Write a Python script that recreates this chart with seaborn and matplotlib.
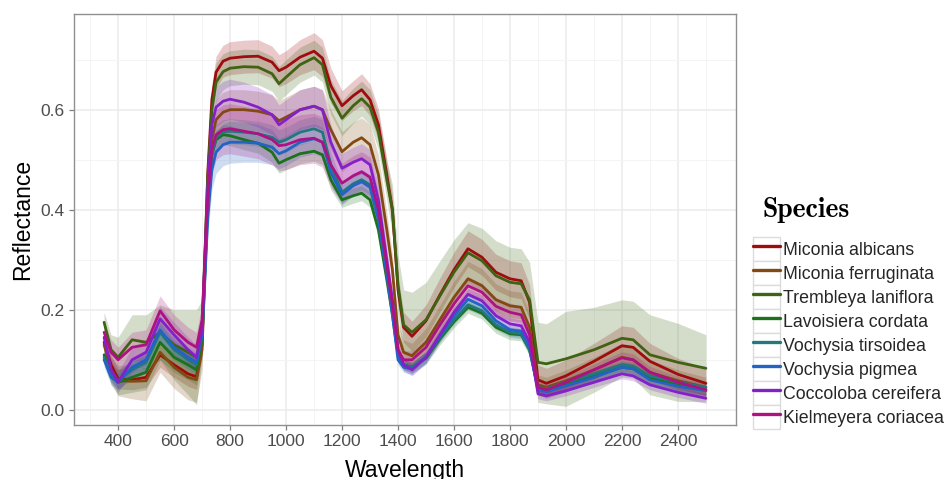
import matplotlib
matplotlib.use("Agg")
import matplotlib.pyplot as plt
from matplotlib.legend_handler import HandlerLine2D
from matplotlib.lines import Line2D
from matplotlib.patches import Rectangle
import numpy as np
import pandas as pd
import seaborn as sns

# --------------------------------------------------------------------------- #
# wavelength grid (nm)
WAVELENGTH = [350, 375, 400, 450, 500, 550, 600, 650, 680, 700,
              710, 720, 735, 750, 775, 800, 850, 900, 950, 975,
              1000, 1050, 1100, 1130, 1160, 1200, 1240, 1270, 1300, 1330,
              1360, 1380, 1400, 1420, 1450, 1500, 1550, 1600, 1650, 1700,
              1750, 1800, 1840, 1870, 1900, 1930, 2000, 2100, 2200, 2240,
              2300, 2400, 2500]

SPECIES = ["Miconia albicans", "Miconia ferruginata", "Trembleya laniflora",
           "Lavoisiera cordata", "Vochysia tirsoidea", "Vochysia pigmea",
           "Coccoloba cereifera", "Kielmeyera coriacea"]
COLORS = ["#9E0C10", "#824A12", "#3F6312", "#1C721C",
          "#22787A", "#2263C4", "#8420C8", "#AE1282"]

# mean reflectance per species
miconia_albicans = [0.135, 0.09, 0.062, 0.06, 0.065, 0.11, 0.09, 0.072, 0.066, 0.13,
                    0.30, 0.47, 0.62, 0.675, 0.697, 0.703, 0.706, 0.707, 0.695, 0.678,
                    0.685, 0.705, 0.717, 0.703, 0.648, 0.608, 0.628, 0.640, 0.620, 0.570,
                    0.47, 0.40, 0.24, 0.165, 0.147, 0.178, 0.23, 0.28, 0.322, 0.305,
                    0.275, 0.262, 0.258, 0.215, 0.06, 0.053, 0.068, 0.097, 0.128, 0.125,
                    0.097, 0.071, 0.053]
miconia_ferruginata = [0.13, 0.08, 0.058, 0.057, 0.058, 0.115, 0.085, 0.065, 0.06, 0.12,
                       0.27, 0.41, 0.54, 0.58, 0.595, 0.600, 0.600, 0.597, 0.59, 0.578,
                       0.585, 0.600, 0.607, 0.60, 0.56, 0.516, 0.535, 0.544, 0.53, 0.47,
                       0.36, 0.28, 0.15, 0.115, 0.108, 0.135, 0.18, 0.225, 0.262, 0.248,
                       0.22, 0.208, 0.205, 0.165, 0.05, 0.045, 0.058, 0.08, 0.105, 0.10,
                       0.075, 0.058, 0.045]
trembleya_laniflora = [0.175, 0.12, 0.105, 0.14, 0.135, 0.155, 0.13, 0.115, 0.105, 0.16,
                       0.31, 0.46, 0.60, 0.655, 0.676, 0.683, 0.686, 0.685, 0.672, 0.652,
                       0.665, 0.69, 0.704, 0.69, 0.625, 0.583, 0.608, 0.622, 0.605, 0.555,
                       0.46, 0.40, 0.25, 0.17, 0.155, 0.18, 0.228, 0.275, 0.314, 0.298,
                       0.268, 0.255, 0.252, 0.22, 0.095, 0.092, 0.102, 0.12, 0.143, 0.14,
                       0.11, 0.095, 0.083]
lavoisiera_cordata = [0.11, 0.07, 0.055, 0.065, 0.075, 0.135, 0.105, 0.09, 0.08, 0.14,
                      0.28, 0.41, 0.51, 0.54, 0.55, 0.548, 0.54, 0.533, 0.515, 0.493,
                      0.50, 0.512, 0.517, 0.51, 0.46, 0.42, 0.428, 0.433, 0.42, 0.36,
                      0.26, 0.19, 0.11, 0.09, 0.085, 0.103, 0.142, 0.176, 0.205, 0.193,
                      0.165, 0.152, 0.15, 0.12, 0.042, 0.04, 0.05, 0.068, 0.085, 0.082,
                      0.063, 0.05, 0.04]
vochysia_tirsoidea = [0.105, 0.07, 0.058, 0.08, 0.095, 0.155, 0.12, 0.10, 0.09, 0.15,
                      0.28, 0.41, 0.51, 0.545, 0.555, 0.557, 0.555, 0.552, 0.545, 0.535,
                      0.54, 0.555, 0.562, 0.555, 0.49, 0.435, 0.452, 0.46, 0.45, 0.39,
                      0.28, 0.20, 0.11, 0.09, 0.085, 0.105, 0.145, 0.18, 0.21, 0.198,
                      0.17, 0.155, 0.152, 0.12, 0.045, 0.042, 0.055, 0.072, 0.09, 0.087,
                      0.068, 0.055, 0.045]
vochysia_pigmea = [0.10, 0.065, 0.055, 0.085, 0.10, 0.16, 0.125, 0.105, 0.095, 0.15,
                   0.26, 0.38, 0.48, 0.515, 0.53, 0.535, 0.535, 0.533, 0.525, 0.512,
                   0.518, 0.535, 0.542, 0.535, 0.475, 0.43, 0.448, 0.456, 0.445, 0.38,
                   0.27, 0.19, 0.10, 0.085, 0.082, 0.105, 0.148, 0.188, 0.221, 0.208,
                   0.178, 0.16, 0.157, 0.125, 0.04, 0.036, 0.048, 0.065, 0.085, 0.082,
                   0.06, 0.047, 0.038]
coccoloba_cereifera = [0.145, 0.08, 0.055, 0.10, 0.115, 0.182, 0.15, 0.12, 0.105, 0.16,
                       0.30, 0.44, 0.57, 0.605, 0.617, 0.621, 0.615, 0.605, 0.59, 0.57,
                       0.58, 0.60, 0.607, 0.60, 0.535, 0.483, 0.495, 0.502, 0.49, 0.42,
                       0.30, 0.22, 0.12, 0.09, 0.08, 0.105, 0.15, 0.195, 0.231, 0.218,
                       0.188, 0.172, 0.168, 0.135, 0.032, 0.028, 0.038, 0.055, 0.072, 0.068,
                       0.05, 0.035, 0.023]
kielmeyera_coriacea = [0.155, 0.115, 0.10, 0.125, 0.13, 0.198, 0.16, 0.135, 0.125, 0.18,
                       0.30, 0.42, 0.52, 0.55, 0.56, 0.562, 0.557, 0.552, 0.54, 0.528,
                       0.53, 0.54, 0.543, 0.535, 0.49, 0.453, 0.468, 0.476, 0.465, 0.40,
                       0.29, 0.21, 0.12, 0.10, 0.10, 0.125, 0.17, 0.212, 0.248, 0.235,
                       0.207, 0.195, 0.19, 0.15, 0.045, 0.04, 0.055, 0.08, 0.104, 0.10,
                       0.075, 0.055, 0.04]

# ribbon half-widths per species
miconia_albicans_sd = [0.02, 0.02, 0.02, 0.02, 0.02, 0.025, 0.025, 0.025, 0.025, 0.025,
                       0.03, 0.03, 0.03, 0.032, 0.032, 0.033, 0.033, 0.033, 0.032, 0.032,
                       0.033, 0.035, 0.037, 0.037, 0.035, 0.03, 0.03, 0.032, 0.032, 0.032,
                       0.03, 0.03, 0.03, 0.03, 0.03, 0.032, 0.034, 0.035, 0.036, 0.036,
                       0.036, 0.036, 0.036, 0.035, 0.03, 0.03, 0.032, 0.036, 0.04, 0.04,
                       0.036, 0.032, 0.03]
miconia_ferruginata_sd = [0.02, 0.025, 0.03, 0.035, 0.04, 0.04, 0.042, 0.045, 0.045, 0.04,
                          0.04, 0.04, 0.04, 0.04, 0.04, 0.04, 0.04, 0.04, 0.04, 0.04,
                          0.04, 0.04, 0.04, 0.04, 0.04, 0.04, 0.04, 0.04, 0.04, 0.04,
                          0.035, 0.03, 0.025, 0.025, 0.025, 0.028, 0.03, 0.032, 0.035, 0.034,
                          0.032, 0.03, 0.03, 0.028, 0.02, 0.02, 0.022, 0.025, 0.028, 0.028,
                          0.025, 0.022, 0.02]
trembleya_laniflora_sd = [0.02, 0.03, 0.04, 0.05, 0.055, 0.055, 0.07, 0.085, 0.095, 0.06,
                          0.05, 0.045, 0.04, 0.038, 0.036, 0.035, 0.035, 0.035, 0.035, 0.035,
                          0.035, 0.035, 0.035, 0.035, 0.035, 0.035, 0.035, 0.035, 0.035, 0.035,
                          0.04, 0.05, 0.06, 0.07, 0.08, 0.075, 0.07, 0.065, 0.06, 0.065,
                          0.07, 0.07, 0.07, 0.075, 0.08, 0.08, 0.095, 0.085, 0.077, 0.077,
                          0.08, 0.078, 0.067]
lavoisiera_cordata_sd = [0.015, 0.02, 0.025, 0.03, 0.035, 0.035, 0.03, 0.03, 0.03, 0.03,
                         0.025, 0.025, 0.02, 0.02, 0.02, 0.02, 0.02, 0.02, 0.02, 0.02,
                         0.02, 0.02, 0.02, 0.02, 0.02, 0.015, 0.015, 0.015, 0.015, 0.015,
                         0.015, 0.012, 0.01, 0.01, 0.012, 0.012, 0.012, 0.012, 0.012, 0.012,
                         0.012, 0.012, 0.012, 0.012, 0.01, 0.01, 0.01, 0.01, 0.01, 0.01,
                         0.01, 0.01, 0.01]
vochysia_tirsoidea_sd = [0.015, 0.015, 0.015, 0.02, 0.02, 0.02, 0.02, 0.02, 0.02, 0.02,
                         0.02, 0.025, 0.025, 0.025, 0.025, 0.025, 0.025, 0.025, 0.025, 0.025,
                         0.025, 0.025, 0.025, 0.025, 0.025, 0.02, 0.02, 0.02, 0.02, 0.02,
                         0.015, 0.012, 0.01, 0.01, 0.01, 0.01, 0.01, 0.01, 0.01, 0.01,
                         0.01, 0.01, 0.01, 0.01, 0.008, 0.008, 0.008, 0.008, 0.008, 0.008,
                         0.008, 0.008, 0.008]
vochysia_pigmea_sd = [0.015, 0.015, 0.015, 0.02, 0.02, 0.02, 0.02, 0.02, 0.02, 0.02,
                      0.03, 0.035, 0.04, 0.042, 0.042, 0.042, 0.04, 0.038, 0.035, 0.03,
                      0.03, 0.03, 0.03, 0.03, 0.025, 0.02, 0.02, 0.02, 0.02, 0.02,
                      0.015, 0.012, 0.01, 0.01, 0.012, 0.012, 0.012, 0.012, 0.012, 0.012,
                      0.012, 0.012, 0.012, 0.012, 0.01, 0.01, 0.01, 0.01, 0.01, 0.01,
                      0.01, 0.01, 0.01]
coccoloba_cereifera_sd = [0.02, 0.02, 0.02, 0.025, 0.025, 0.025, 0.025, 0.025, 0.025, 0.025,
                          0.03, 0.035, 0.04, 0.04, 0.04, 0.04, 0.04, 0.04, 0.04, 0.04,
                          0.04, 0.04, 0.04, 0.04, 0.035, 0.03, 0.03, 0.03, 0.03, 0.03,
                          0.025, 0.02, 0.015, 0.012, 0.012, 0.012, 0.012, 0.012, 0.012, 0.012,
                          0.012, 0.012, 0.012, 0.012, 0.01, 0.01, 0.01, 0.01, 0.01, 0.01,
                          0.01, 0.01, 0.01]
kielmeyera_coriacea_sd = [0.02, 0.025, 0.025, 0.03, 0.03, 0.03, 0.03, 0.03, 0.03, 0.03,
                          0.04, 0.045, 0.05, 0.05, 0.05, 0.05, 0.05, 0.05, 0.05, 0.05,
                          0.05, 0.05, 0.05, 0.05, 0.045, 0.04, 0.04, 0.04, 0.04, 0.035,
                          0.03, 0.025, 0.02, 0.018, 0.018, 0.018, 0.018, 0.018, 0.018, 0.018,
                          0.018, 0.018, 0.018, 0.018, 0.012, 0.012, 0.012, 0.012, 0.012, 0.012,
                          0.012, 0.012, 0.012]

MEANS = [miconia_albicans, miconia_ferruginata, trembleya_laniflora, lavoisiera_cordata,
         vochysia_tirsoidea, vochysia_pigmea, coccoloba_cereifera, kielmeyera_coriacea]
SDS = [miconia_albicans_sd, miconia_ferruginata_sd, trembleya_laniflora_sd,
       lavoisiera_cordata_sd, vochysia_tirsoidea_sd, vochysia_pigmea_sd,
       coccoloba_cereifera_sd, kielmeyera_coriacea_sd]
# --------------------------------------------------------------------------- #

rows = []
for sp, m, s in zip(SPECIES, MEANS, SDS):
    assert len(m) == len(WAVELENGTH) and len(s) == len(WAVELENGTH), sp
    for w, mv, sv in zip(WAVELENGTH, m, s):
        rows.append(dict(species=sp, wavelength=w, reflectance=mv,
                         lo=mv - sv, hi=mv + sv))
df = pd.DataFrame(rows)

sns.set_theme(style="white")
plt.rcParams["font.family"] = ["Liberation Sans", "DejaVu Sans"]

fig = plt.figure(figsize=(9.49, 4.79), dpi=100)
ax = fig.add_axes([74 / 949, 1 - 425 / 479, 662 / 949, 411 / 479])

palette = dict(zip(SPECIES, COLORS))

# ribbons first, then lines (ggplot layer order)
for sp in SPECIES:
    d = df[df.species == sp]
    ax.fill_between(d.wavelength, d.lo, d.hi, color=palette[sp],
                    alpha=0.22, linewidth=0, zorder=1)

sns.lineplot(data=df, x="wavelength", y="reflectance", hue="species",
             hue_order=SPECIES, palette=palette, linewidth=2.0,
             estimator=None, legend=False, ax=ax, zorder=2)

# ggplot-like 5% expansion
xr = df.wavelength.max() - df.wavelength.min()
ax.set_xlim(df.wavelength.min() - 0.05 * xr, df.wavelength.max() + 0.05 * xr)
yr = df.hi.max() - df.lo.min()
ax.set_ylim(df.lo.min() - 0.05 * yr, df.hi.max() + 0.05 * yr)

ax.set_xticks(range(400, 2401, 200))
ax.set_xticks(range(300, 2501, 200), minor=True)
ax.set_yticks([0.0, 0.2, 0.4, 0.6])
ax.set_yticklabels(["0.0", "0.2", "0.4", "0.6"])
ax.set_yticks([0.1, 0.3, 0.5, 0.7], minor=True)

ax.grid(which="major", color="#EBEBEB", linewidth=1.1, zorder=0)
ax.grid(which="minor", color="#F4F4F4", linewidth=0.7, zorder=0)
ax.set_axisbelow(True)
ax.tick_params(which="major", length=3.5, width=0.9, color="#7F7F7F",
               labelsize=12.5, labelcolor="#4D4D4D", pad=3,
               bottom=True, left=True)
ax.tick_params(which="minor", length=0)
for sp_ in ax.spines.values():
    sp_.set_color("#8F8F8F")
    sp_.set_linewidth(1.0)

ax.set_xlabel("Wavelength", fontsize=16.5, color="black", labelpad=7)
ax.set_ylabel("Reflectance", fontsize=16.5, color="black", labelpad=5)


class BoxedLine(HandlerLine2D):
    def create_artists(self, legend, orig_handle, xdescent, ydescent,
                       width, height, fontsize, trans):
        arts = super().create_artists(legend, orig_handle, xdescent, ydescent,
                                      width, height, fontsize, trans)
        box = Rectangle((-xdescent, -ydescent), width, height,
                        facecolor="white", edgecolor="#DCDCDC", lw=1.0,
                        transform=trans)
        return [box] + list(arts)


handles = [Line2D([], [], color=palette[sp], linewidth=2.4) for sp in SPECIES]
fig.legend(handles, SPECIES, loc="upper left",
           bbox_to_anchor=(753 / 949, 1 - 237 / 479),
           frameon=False, fontsize=12.8, borderpad=0, borderaxespad=0,
           labelspacing=0, handlelength=1.5, handleheight=1.7,
           handletextpad=0.2,
           handler_map={Line2D: BoxedLine(marker_pad=0.1)})
fig.text(762 / 949, 1 - 210 / 479, "Species", fontfamily="cmb10",
         fontsize=20, va="center", ha="left", color="black")

fig.savefig("out.png", dpi=100)
